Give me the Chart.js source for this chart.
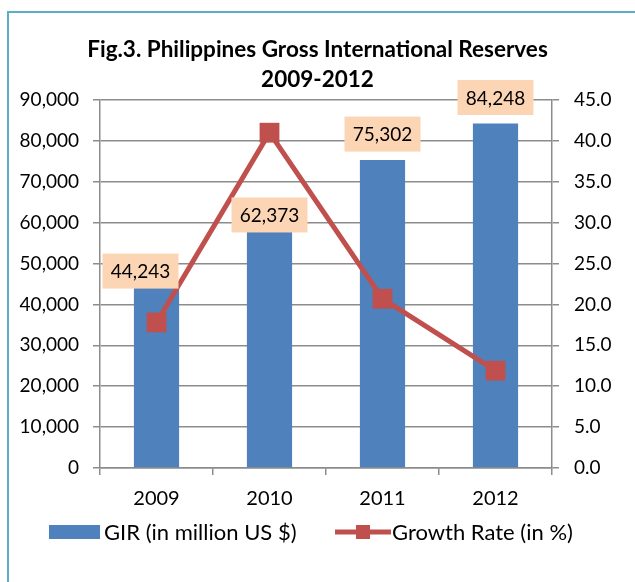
<!DOCTYPE html>
<html>
<head>
<meta charset="utf-8">
<script src="https://cdn.jsdelivr.net/npm/chart.js@4.4.1/dist/chart.umd.min.js"></script>
<style>
  html, body { margin: 0; padding: 0; background: #ffffff; }
  #wrap { width: 635px; height: 582px; position: relative; }
</style>
</head>
<body>
<div id="wrap"><canvas id="c" width="635" height="582"></canvas></div>
<script>
// ---- data ----
const years = ['2009', '2010', '2011', '2012'];
const girValues = [44243, 62373, 75302, 84248];
const growthRates = [17.8, 41.0, 20.7, 11.9];
const girLabels = ['44,243', '62,373', '75,302', '84,248'];
const titleLines = ['Fig.3. Philippines Gross International Reserves', '2009-2012'];
const legendNames = ['GIR (in million US $)', 'Growth Rate (in %)'];

// ---- styling ----
const FONT = 'Lato, "Open Sans", sans-serif';
const BAR_COLOR = '#4F81BD';
const LINE_COLOR = '#C0504D';
const GRID_COLOR = '#8C8C8C';
const LABEL_BG = '#FCD5B5';
const labelOffsets = [[-16, -16], [0, 2], [0, -26], [0, -26]]; // box centre vs bar top

const frame = {
  id: 'frame',
  beforeDraw(chart) {
    const ctx = chart.ctx;
    ctx.save();
    ctx.fillStyle = '#ffffff';
    ctx.fillRect(0, 0, chart.width, chart.height);
    ctx.strokeStyle = '#5AAEC8';
    ctx.lineWidth = 2;
    ctx.beginPath();
    ctx.moveTo(8, chart.height + 2);
    ctx.lineTo(8, 12);
    ctx.lineTo(chart.width + 2, 12);
    ctx.stroke();
    ctx.restore();
  }
};

const dataLabels = {
  id: 'dataLabels',
  afterDatasetsDraw(chart) {
    const ctx = chart.ctx;
    const meta = chart.getDatasetMeta(0);
    ctx.save();
    ctx.font = '19px ' + FONT;
    ctx.textAlign = 'center';
    ctx.textBaseline = 'middle';
    meta.data.forEach((bar, i) => {
      const cx = bar.x + labelOffsets[i][0];
      const cy = bar.y + labelOffsets[i][1];
      const w = 76, h = 35;
      ctx.fillStyle = LABEL_BG;
      ctx.fillRect(cx - w / 2, cy - h / 2, w, h);
      ctx.fillStyle = '#000000';
      ctx.fillText(girLabels[i], cx, cy + 1);
    });
    ctx.restore();
  }
};

const customLegend = {
  id: 'customLegend',
  afterDraw(chart) {
    const ctx = chart.ctx;
    const y = 532;
    ctx.save();
    ctx.font = '22px ' + FONT;
    ctx.textBaseline = 'middle';
    ctx.textAlign = 'left';
    // bar swatch
    ctx.fillStyle = BAR_COLOR;
    ctx.fillRect(49, y - 7, 51, 14);
    ctx.fillStyle = '#000000';
    ctx.fillText(legendNames[0], 104, y + 1);
    // line swatch
    ctx.strokeStyle = LINE_COLOR;
    ctx.lineWidth = 5;
    ctx.beginPath();
    ctx.moveTo(335, y);
    ctx.lineTo(391, y);
    ctx.stroke();
    ctx.fillStyle = LINE_COLOR;
    ctx.fillRect(356, y - 7, 14, 14);
    ctx.fillStyle = '#000000';
    ctx.fillText(legendNames[1], 392, y + 1);
    ctx.restore();
  }
};

new Chart(document.getElementById('c'), {
  data: {
    labels: years,
    datasets: [
      {
        type: 'bar',
        label: legendNames[0],
        data: girValues,
        backgroundColor: BAR_COLOR,
        yAxisID: 'y',
        barPercentage: 0.4,
        categoryPercentage: 1.0,
        order: 2
      },
      {
        type: 'line',
        label: legendNames[1],
        data: growthRates,
        borderColor: LINE_COLOR,
        backgroundColor: LINE_COLOR,
        borderWidth: 5,
        pointStyle: 'rect',
        pointRadius: 14,
        pointBorderWidth: 0,
        tension: 0,
        yAxisID: 'y2',
        order: 1
      }
    ]
  },
  options: {
    responsive: false,
    animation: false,
    devicePixelRatio: 1,
    layout: { padding: { left: 0, right: 0, top: 12, bottom: 0 } },
    plugins: {
      legend: { display: false },
      tooltip: { enabled: false },
      title: {
        display: true,
        text: titleLines,
        color: '#000000',
        font: { family: FONT, size: 22.5, weight: 'bold', lineHeight: '30px' },
        padding: { top: 23, bottom: 5 }
      }
    },
    scales: {
      x: {
        type: 'category',
        offset: true,
        grid: { offset: true, drawOnChartArea: false, color: GRID_COLOR, lineWidth: 1.5, tickLength: 7, tickColor: GRID_COLOR },
        border: { color: GRID_COLOR, width: 1.5 },
        ticks: { color: '#000000', font: { family: FONT, size: 20 }, padding: 12 },
        afterFit(scale) { scale.height = 114; }
      },
      y: {
        position: 'left',
        min: 0, max: 90000,
        ticks: {
          stepSize: 10000,
          color: '#000000',
          font: { family: FONT, size: 19 },
          padding: 14,
          callback: v => v.toLocaleString('en-US')
        },
        grid: { color: GRID_COLOR, lineWidth: 1.5, tickLength: 7, tickColor: GRID_COLOR },
        border: { color: GRID_COLOR, width: 1.5 },
        afterFit(scale) { scale.width = 100; }
      },
      y2: {
        position: 'right',
        min: 0, max: 45,
        ticks: {
          stepSize: 5,
          color: '#000000',
          font: { family: FONT, size: 19 },
          padding: 15,
          callback: v => v.toFixed(1)
        },
        grid: { drawOnChartArea: false, color: GRID_COLOR, lineWidth: 1.5, tickLength: 7, tickColor: GRID_COLOR },
        border: { color: GRID_COLOR, width: 1.5 },
        afterFit(scale) { scale.width = 83; }
      }
    }
  },
  plugins: [frame, dataLabels, customLegend]
});
</script>
</body>
</html>
